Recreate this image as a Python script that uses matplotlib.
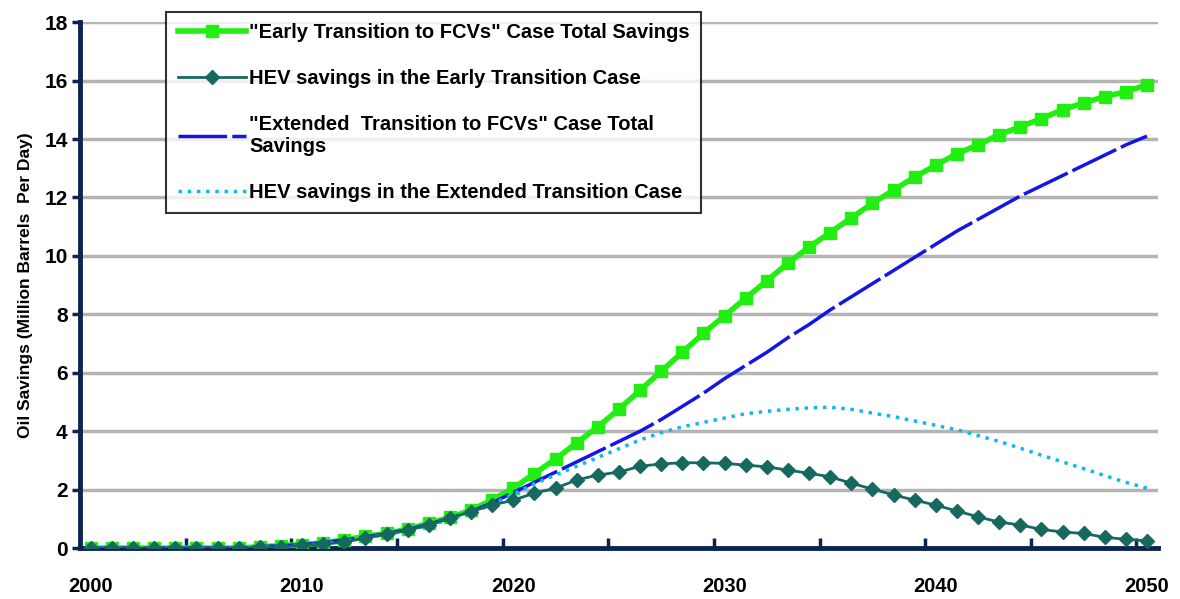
import numpy as np
import matplotlib
matplotlib.use("Agg")
import matplotlib.pyplot as plt

# oil savings, million barrels per day, one value per year 2000-2050
years = list(range(2000, 2051))

early_total = [0, 0, 0, 0, 0, 0, 0, 0, 0.05, 0.08,
               0.12, 0.18, 0.28, 0.4, 0.5, 0.65, 0.85, 1.05, 1.3, 1.65,
               2.05, 2.55, 3.05, 3.6, 4.15, 4.75, 5.4, 6.05, 6.7, 7.35,
               7.95, 8.55, 9.15, 9.75, 10.3, 10.8, 11.3, 11.8, 12.25, 12.7,
               13.1, 13.5, 13.8, 14.15, 14.42, 14.7, 15.0, 15.24, 15.45, 15.62,
               15.86]
early_hev = [0, 0, 0, 0, 0, 0, 0, 0, 0.03, 0.05,
             0.1, 0.14, 0.2, 0.35, 0.48, 0.62, 0.79, 1.03, 1.25, 1.47,
             1.64, 1.88, 2.05, 2.33, 2.5, 2.6, 2.8, 2.88, 2.92, 2.92,
             2.9, 2.84, 2.78, 2.67, 2.56, 2.44, 2.22, 2.02, 1.82, 1.64,
             1.47, 1.27, 1.07, 0.89, 0.79, 0.64, 0.55, 0.5, 0.37, 0.3,
             0.25]
extended_total = [0, 0, 0, 0, 0, 0, 0, 0, 0.05, 0.08,
                  0.12, 0.18, 0.28, 0.38, 0.5, 0.63, 0.82, 1.02, 1.25, 1.55,
                  1.9, 2.25, 2.6, 2.95, 3.3, 3.65, 4.0, 4.4, 4.85, 5.3,
                  5.8, 6.25, 6.7, 7.2, 7.65, 8.15, 8.6, 9.05, 9.5, 9.95,
                  10.4, 10.85, 11.25, 11.65, 12.05, 12.4, 12.75, 13.1, 13.45, 13.8,
                  14.1]
extended_hev = [0, 0, 0, 0, 0, 0, 0, 0, 0.04, 0.07,
                0.1, 0.15, 0.24, 0.35, 0.47, 0.6, 0.78, 0.98, 1.2, 1.5,
                1.85, 2.2, 2.5, 2.8, 3.1, 3.4, 3.7, 3.95, 4.15, 4.3,
                4.45, 4.6, 4.68, 4.75, 4.8, 4.82, 4.75, 4.62, 4.5, 4.35,
                4.2, 4.05, 3.85, 3.65, 3.42, 3.18, 2.95, 2.72, 2.48, 2.25,
                2.05]

labels = ['"Early Transition to FCVs" Case Total Savings',
          'HEV savings in the Early Transition Case',
          '"Extended  Transition to FCVs" Case Total\nSavings',
          'HEV savings in the Extended Transition Case']

navy = "#0b2452"
plt.rcParams["font.family"] = ["Liberation Sans", "DejaVu Sans"]

fig = plt.figure(figsize=(11.8, 5.99), dpi=100)
ax = fig.add_axes([0.068, 0.085, 0.913, 0.878])

l1, = ax.plot(years, early_total, color="#22ee11", lw=4, marker="s", ms=9,
              label=labels[0], zorder=3)
l3, = ax.plot(years, extended_total, color="#1515e6", lw=2.5,
              dashes=(14, 1.5), label=labels[2], zorder=4)
l4, = ax.plot(years, extended_hev, color="#10b8f0", lw=2.5, ls=":",
              label=labels[3], zorder=4)
l2, = ax.plot(years, early_hev, color="#17695f", lw=2, marker="D", ms=7,
              label=labels[1], zorder=5)

ax.set_xlim(1999.5, 2050.5)
ax.set_ylim(0, 18)
ax.set_yticks(np.arange(0, 19, 2))
ax.set_xticks(range(2000, 2051, 10))
ax.set_xticks(np.arange(2004.5, 2050, 5), minor=True)
ax.yaxis.grid(True, color="#b4b4b4", lw=2.5)
ax.set_axisbelow(True)

for s in ["top", "right"]:
    ax.spines[s].set_visible(False)
for s in ["left", "bottom"]:
    ax.spines[s].set_color(navy)
    ax.spines[s].set_linewidth(3.5)

ax.tick_params(axis="y", direction="out", length=6, width=2.5, color=navy,
               labelsize=15, pad=3)
ax.tick_params(axis="x", which="major", length=0, labelsize=14.5, pad=21)
ax.tick_params(axis="x", which="minor", direction="in", length=7, width=2.5,
               color=navy)
for t in ax.get_xticklabels() + ax.get_yticklabels():
    t.set_fontweight("bold")

ax.set_ylabel("Oil Savings (Million Barrels  Per Day)", fontsize=12.5,
              fontweight="bold", labelpad=8)

leg = ax.legend(handles=[l1, l2, l3, l4], loc="upper left",
                bbox_to_anchor=(0.08, 1.02),
                prop={"weight": "bold", "size": 14.5},
                frameon=True, fancybox=False, edgecolor="black",
                labelspacing=1.35, handlelength=3.4, handletextpad=0.15,
                borderpad=0.55, borderaxespad=0)
leg.get_frame().set_linewidth(1.5)
leg.set_zorder(10)

fig.savefig("out.png", dpi=100, facecolor="white")
